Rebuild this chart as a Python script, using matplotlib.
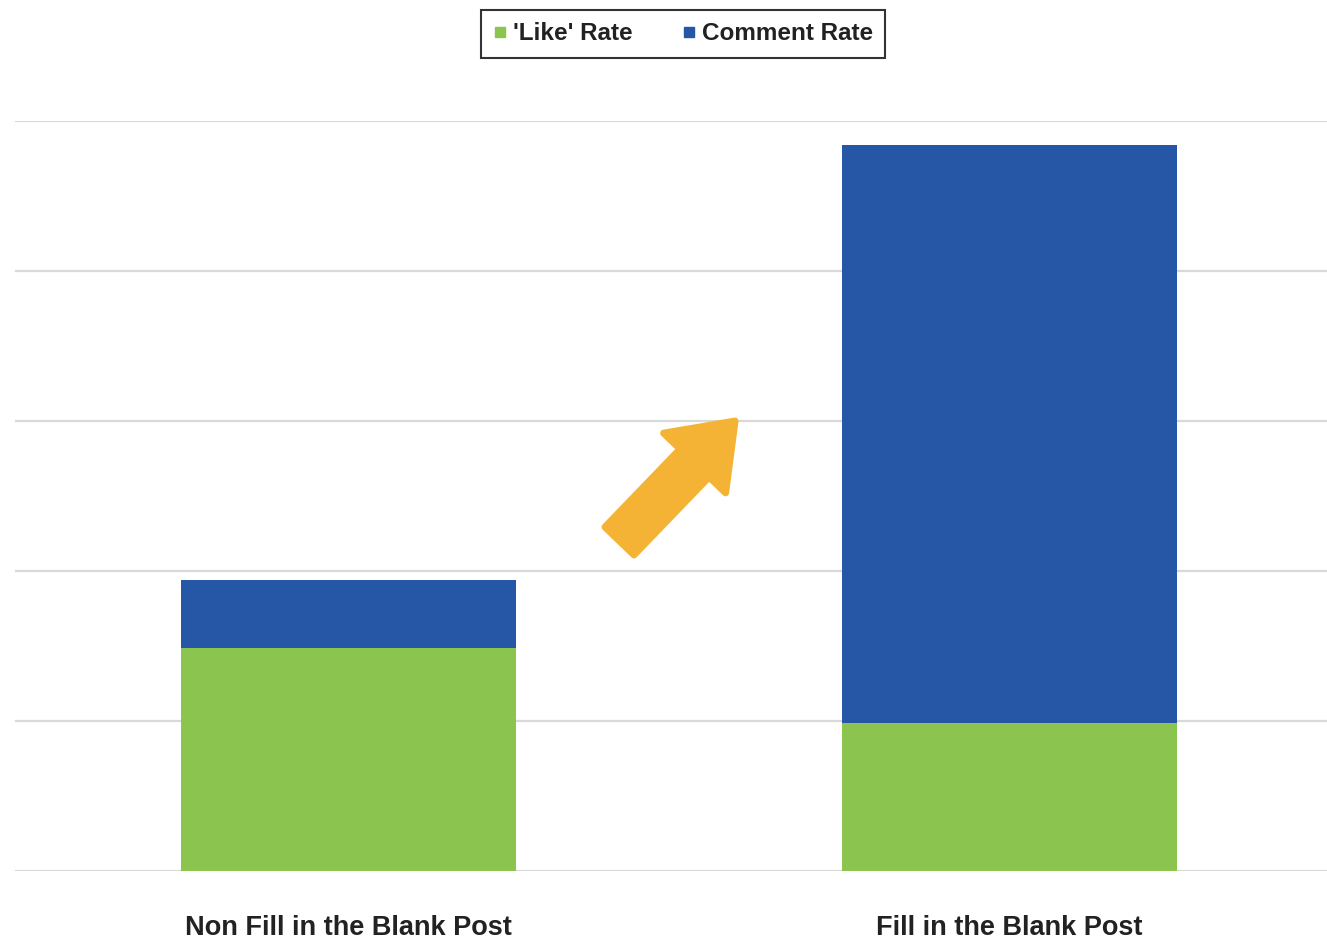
import matplotlib.pyplot as plt
from matplotlib.lines import Line2D

plt.rcParams['font.family'] = ['Liberation Sans', 'DejaVu Sans']

categories = ["Non Fill in the Blank Post", "Fill in the Blank Post"]
like_rate = [1.49, 0.99]
comment_rate = [0.45, 3.85]

green = '#8BC44E'
blue = '#2656A6'
orange = '#F5B335'

fig = plt.figure(figsize=(13.27, 9.42), dpi=100)
ax = fig.add_axes([15 / 1327, 71 / 942, 1312 / 1327, 750 / 942])

x = [0, 1]
ax.bar(x, like_rate, width=0.507, color=green, zorder=2)
ax.bar(x, comment_rate, width=0.507, bottom=like_rate, color=blue, zorder=2)

ax.set_xlim(-0.505, 1.481)
ax.set_ylim(0, 5)
ax.set_yticks([0, 1, 2, 3, 4, 5])
ax.yaxis.grid(True, color='#D9D9D9', linewidth=1.6, zorder=0)
ax.set_axisbelow(True)
ax.tick_params(left=False, bottom=False, labelleft=False)
for s in ax.spines.values():
    s.set_visible(False)
ax.set_xticks(x)
ax.set_xticklabels(categories, fontsize=19.5, fontweight='bold', color='#222222')
ax.tick_params(axis='x', pad=28)

# upward arrow between the two bars
ax.annotate('', xy=(0.585, 3.0), xytext=(0.41, 2.2),
            arrowprops=dict(arrowstyle='simple,head_length=4.2,head_width=6.2,tail_width=2.9',
                            color=orange, lw=5, joinstyle='round', capstyle='round',
                            shrinkA=0, shrinkB=0),
            zorder=3)

handles = [Line2D([], [], marker='s', linestyle='', markersize=7, color=green),
           Line2D([], [], marker='s', linestyle='', markersize=7, color=blue)]
leg = fig.legend(handles, ["'Like' Rate", "Comment Rate"], loc='center',
                 bbox_to_anchor=(683 / 1327, 1 - 34 / 942), ncol=2,
                 prop={'size': 17.5, 'weight': 'bold'}, frameon=True, fancybox=False,
                 handlelength=0.6, handletextpad=0.25, columnspacing=2.0,
                 borderpad=0.5, borderaxespad=0, edgecolor='black')
leg.get_frame().set_linewidth(1.5)
for t in leg.get_texts():
    t.set_color('#222222')

fig.savefig('out.png', dpi=100)
